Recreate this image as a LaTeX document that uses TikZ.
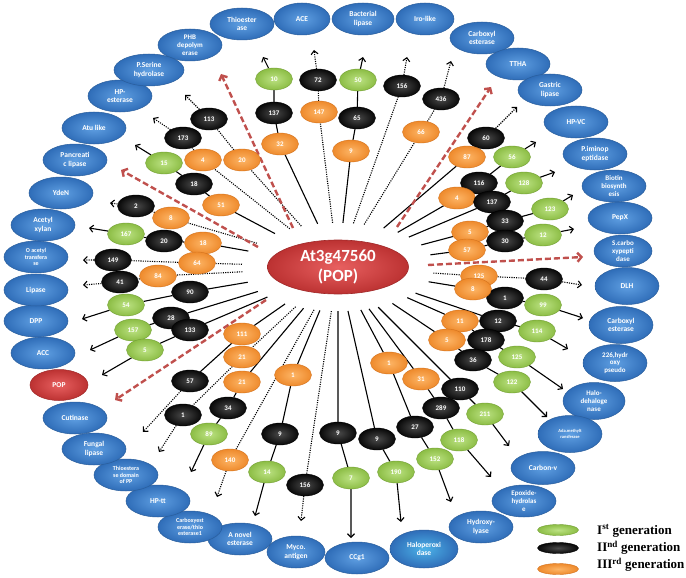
\documentclass[tikz,border=0pt]{standalone}
\usepackage{fontspec}
\setmainfont{Carlito}
\newfontfamily\legfont{Liberation Serif}
\usetikzlibrary{shapes.geometric,arrows.meta,backgrounds}
\definecolor{cBi}{HTML}{5F9FE2}
\definecolor{cBo}{HTML}{2F6DB8}
\definecolor{cBd}{HTML}{2A5E9C}
\definecolor{cGi}{HTML}{BCE283}
\definecolor{cGo}{HTML}{8CBD45}
\definecolor{cGd}{HTML}{73A033}
\definecolor{cOi}{HTML}{FDB566}
\definecolor{cOo}{HTML}{EE8A2C}
\definecolor{cOd}{HTML}{D4721C}
\definecolor{cKi}{HTML}{4A4A4A}
\definecolor{cKo}{HTML}{080808}
\definecolor{cRi}{HTML}{E86060}
\definecolor{cRo}{HTML}{BC3232}
\definecolor{cRd}{HTML}{A02828}
\definecolor{cRdash}{HTML}{C0504D}
\begin{document}
\begin{tikzpicture}[x=1pt,y=-1pt,
  gen/.style={ellipse, minimum width=37pt, minimum height=22pt, inner sep=0pt,
    text=white, font=\fontsize{7}{8}\selectfont\bfseries, line width=0.4pt},
  gI/.style={gen, inner color=cGi, outer color=cGo, draw=cGd},
  gII/.style={gen, inner color=cKi, outer color=cKo, draw=black},
  gIII/.style={gen, inner color=cOi, outer color=cOo, draw=cOd},
  prot/.style={ellipse, minimum width=64pt, minimum height=32pt, inner sep=0pt,
    inner color=cBi, outer color=cBo, draw=cBd, line width=0.5pt, text=white,
    align=center, font=\fontsize{7.5}{8.5}\selectfont\bfseries},
  protthree/.style={prot, font=\fontsize{7}{7.8}\selectfont\bfseries},
  protsmall/.style={prot, font=\fontsize{6}{6.8}\selectfont\bfseries},
  protred/.style={prot, minimum width=58pt, minimum height=31pt, inner color=cRi, outer color=cRo, draw=cRd},
  hub/.style={ellipse, minimum width=141pt, minimum height=54pt, inner sep=0pt,
    inner color=cRi, outer color=cRo, draw=cRd, line width=0.6pt, text=white,
    align=center, font=\fontsize{17}{20}\selectfont\bfseries},
  ringst/.style={ellipse, minimum width=192pt, minimum height=88pt, inner sep=0pt, draw=none},
  seg/.style={line width=1.1pt, black},
  conn/.style={seg, -{Straight Barb[length=3.5pt,width=7pt]}},
  dseg/.style={seg, dash pattern=on 1.1pt off 1.2pt},
  dconn/.style={conn, dash pattern=on 1.1pt off 1.2pt},
  reddash/.style={line width=2.4pt, draw=cRdash, dash pattern=on 6pt off 3pt,
    -{Straight Barb[length=4pt,width=9pt]}},
  leg/.style={ellipse, minimum width=41pt, minimum height=11pt, inner sep=0pt, line width=0.4pt},
  legtxt/.style={anchor=west, inner sep=0pt, font=\legfont\bfseries\fontsize{13}{15}\selectfont}
]
\useasboundingbox (0,0) rectangle (686,578);
\begin{scope}[on background layer]
\fill[white] (0,0) rectangle (686,578);
\end{scope}

% ---- hub ----
\node[ringst] (ring) at (338,267) {};
\node[hub] (pop) at (338,267) {At3g47560\\(POP)};

% ---- outer proteins ----
\node[protthree] (pPHB) at (190,45) {PHB\\depolym\\erase};
\node[prot] (pThio) at (242,24) {Thioester\\ase};
\node[prot, minimum width=56pt] (pACE) at (302,19) {ACE};
\node[prot, minimum width=62pt] (pBact) at (363,19) {Bacterial\\lipase};
\node[prot, minimum width=58pt] (pIro) at (425,19) {Iro-like};
\node[prot] (pCarbA) at (482,38) {Carboxyl\\esterase};
\node[prot] (pTTHA) at (518,64) {TTHA};
\node[prot] (pGast) at (550,90) {Gastric\\lipase};
\node[prot] (pHPVC) at (576,122) {HP-VC};
\node[prot] (pPim) at (595,154) {P.iminop\\eptidase};
\node[protthree] (pBio) at (614,186) {Biotin\\biosynth\\esis};
\node[prot] (pPepX) at (620,218) {PepX};
\node[protthree, minimum width=58pt] (pScar) at (623,251) {S.carbo\\xypepti\\dase};
\node[prot, minimum height=37pt] (pDLH) at (627,286) {DLH};
\node[prot, minimum height=37pt] (pCarbB) at (621,325) {Carboxyl\\esterase};
\node[protthree, minimum height=37pt] (pHyps) at (615,363) {226,hydr\\oxy\\pseudo};
\node[protthree, minimum width=62pt, minimum height=37pt] (pHalo) at (594,401) {Halo-\\dehaloge\\nase};
\node[prot, minimum height=37pt, font=\fontsize{4.5}{5.2}\selectfont\bfseries] (pAda) at (570,434) {Ada.methylt\\ransferase};
\node[prot, minimum height=33pt] (pCv) at (543,468) {Carbon-v};
\node[protthree] (pEpo) at (524,501) {Epoxide-\\hydrolas\\e};
\node[prot] (pHyd) at (481,527) {Hydroxy-\\lyase};
\node[prot, minimum width=68pt, minimum height=38pt, inner color=cBi!80!cyan] (pHalop) at (424,549) {Haloperoxi\\dase};
\node[prot] (pCCg) at (357,558) {CCg1};
\node[prot, minimum width=58pt] (pMyco) at (296,552) {Myco.\\antigen};
\node[prot] (pNovel) at (240,539) {A novel\\esterase};
\node[protsmall] (pCbx) at (190,527) {Carboxyest\\erase/thio\\esterase1};
\node[prot] (pHPtt) at (158,501) {HP-tt};
\node[protsmall] (pTdom) at (126,475) {Thioestera\\se domain\\of PP};
\node[prot] (pFung) at (94,449) {Fungal\\lipase};
\node[prot] (pCut) at (75,418) {Cutinase};
\node[protred] (pPOP) at (59,385) {POP};
\node[prot] (pACC) at (43,353) {ACC};
\node[prot] (pDPP) at (36,321) {DPP};
\node[prot] (pLip) at (36,290) {Lipase};
\node[protsmall] (pOac) at (36,257) {O acetyl\\transfera\\se};
\node[prot] (pAcx) at (43,225) {Acetyl\\xylan};
\node[prot] (pYde) at (61,193) {YdeN};
\node[prot] (pPanc) at (75,160) {Pancreati\\c lipase};
\node[prot] (pAtu) at (94,128) {Atu like};
\node[prot] (pHPe) at (120,96) {HP-\\esterase};
\node[prot, minimum width=70pt] (pPSer) at (149,70) {P.Serine\\hydrolase};

% ---- generation nodes: upper left ----
\node[gIII] (o51) at (221,205) {51};
\node[gII] (k18) at (194,184) {18};
\node[gI] (g15) at (164,163) {15};
\node[gIII] (o4a) at (203,160) {4};
\node[gII] (k173) at (183,138) {173};
\node[gIII] (o20a) at (242,160) {20};
\node[gII] (k113) at (209,119) {113};
\node[gIII] (o8a) at (171,218) {8};
\node[gII] (k2) at (136,206) {2};
\node[gI] (g167) at (126,234) {167};
\node[gII] (k20) at (164,241) {20};
\node[gIII] (o18) at (203,243) {18};
\node[gII] (k149) at (113,260) {149};
\node[gIII] (o64) at (197,263) {64};
\node[gII] (k41) at (120,282) {41};
\node[gIII] (o84) at (158,276) {84};
\node[gI] (g54) at (126,305) {54};
\node[gII] (k90) at (190,292) {90};
\node[gI] (g157) at (133,330) {157};
\node[gII] (k28) at (171,318) {28};
\node[gI] (g5) at (145,350) {5};
\node[gII] (k133) at (190,330) {133};
% top
\node[gIII] (o32) at (280,144) {32};
\node[gII] (k137a) at (274,113) {137};
\node[gI] (g10) at (274,79) {10};
\node[gIII] (o147) at (319,112) {147};
\node[gII] (k72) at (318,80) {72};
\node[gIII] (o9a) at (351,151) {9};
\node[gII] (k65) at (357,118) {65};
\node[gI] (g50) at (358,80) {50};
\node[gII] (k156a) at (402,86) {156};
\node[gIII] (o66) at (421,132) {66};
\node[gII] (k436) at (441,99) {436};
% upper right
\node[gII] (k60) at (486,138) {60};
\node[gIII] (o87) at (467,157) {87};
\node[gI] (g56) at (512,157) {56};
\node[gII] (k116) at (479,183) {116};
\node[gIII] (o4b) at (457,198) {4};
\node[gI] (g128) at (524,183) {128};
\node[gII] (k137b) at (492,202) {137};
\node[gI] (g123) at (550,209) {123};
\node[gII] (k33) at (505,221) {33};
\node[gIII] (o5a) at (470,232) {5};
\node[gI] (g12) at (543,235) {12};
\node[gII] (k30) at (505,241) {30};
\node[gIII] (o57) at (467,250) {57};
% right lower
\node[gII] (k44) at (544,279) {44};
\node[gIII] (o125) at (479,276) {125};
\node[gI] (g99) at (543,305) {99};
\node[gII] (k1a) at (505,298) {1};
\node[gIII] (o8b) at (473,289) {8};
\node[gI] (g114) at (537,331) {114};
\node[gII] (k12) at (498,321) {12};
\node[gIII] (o11) at (460,321) {11};
\node[gI] (g125) at (517,357) {125};
\node[gII] (k178) at (486,340) {178};
\node[gIII] (o5b) at (447,340) {5};
\node[gI] (g122) at (512,382) {122};
\node[gII] (k36) at (473,360) {36};
\node[gI] (g211) at (485,414) {211};
\node[gII] (k110) at (460,389) {110};
\node[gIII] (o31) at (421,379) {31};
\node[gI] (g118) at (459,440) {118};
\node[gII] (k289) at (441,408) {289};
\node[gIII] (o1a) at (389,363) {1};
\node[gI] (g152) at (435,459) {152};
\node[gII] (k27) at (415,427) {27};
\node[gII] (k9c) at (377,439) {9};
\node[gI] (g190) at (396,472) {190};
\node[gII] (k9b) at (338,433) {9};
\node[gI] (g7) at (351,478) {7};
\node[gII] (k156b) at (305,485) {156};
\node[gIII] (o1b) at (293,375) {1};
\node[gII] (k9a) at (280,434) {9};
\node[gI] (g14) at (267,472) {14};
% lower left
\node[gIII] (o111) at (242,334) {111};
\node[gII] (k57) at (190,381) {57};
\node[gIII] (o21a) at (242,357) {21};
\node[gII] (k1b) at (183,415) {1};
\node[gIII] (o21b) at (242,382) {21};
\node[gII] (k34) at (228,408) {34};
\node[gI] (g89) at (209,434) {89};
\node[gIII] (o140) at (230,460) {140};

% ---- arrow tips ----
\coordinate (aUL1) at (135,145);
\coordinate (aUL2) at (153,118);
\coordinate (aUL3) at (185,95);
\coordinate (aUL4) at (110,203);
\coordinate (aUL5) at (89,228);
\coordinate (aUL6) at (83,260);
\coordinate (aL1) at (83,285);
\coordinate (aL2) at (82,319);
\coordinate (aL3) at (90,350);
\coordinate (aL4) at (102,375);
\coordinate (aLL1) at (143,432);
\coordinate (aLL2) at (159,452);
\coordinate (aLL3) at (191,472);
\coordinate (aLL4) at (217,497);
\coordinate (aLL5) at (255,516);
\coordinate (aB1) at (301,521);
\coordinate (aB2) at (351,538);
\coordinate (aB3) at (401,522);
\coordinate (aB4) at (451,502);
\coordinate (aB5) at (491,477);
\coordinate (aB6) at (509,446);
\coordinate (aR1) at (547,417);
\coordinate (aR2) at (563,389);
\coordinate (aR3) at (568,349);
\coordinate (aR4) at (583,318);
\coordinate (aR5) at (582,285);
\coordinate (aUR1) at (574,229);
\coordinate (aUR2) at (573,195);
\coordinate (aUR3) at (555,172);
\coordinate (aUR4) at (536,142);
\coordinate (aUR5) at (517,107);
\coordinate (aT5) at (451,61);
\coordinate (aT4) at (407,57);
\coordinate (aT3) at (363,57);
\coordinate (aT2) at (314,50);
\coordinate (aT1) at (263,57);
% red dashed
\coordinate (rs1) at (293,228); \coordinate (rt1) at (221,74);
\coordinate (rs2) at (258,247); \coordinate (rt2) at (121,170);
\coordinate (rs3) at (266,300); \coordinate (rt3) at (115,400);
\coordinate (rs4) at (397,227); \coordinate (rt4) at (491,87);
\coordinate (rs5) at (428,265); \coordinate (rt5) at (583,257);

% ---- legend ----
\node[leg, inner color=cGi, outer color=cGo, draw=cGd] (lg1) at (558,530) {};
\node[leg, inner color=cKi, outer color=cKo, draw=black] (lg2) at (558,548) {};
\node[leg, inner color=cOi, outer color=cOo, draw=cOd] (lg3) at (558,569) {};
\node[legtxt] (lt1) at (597,531) {I\textsuperscript{st} generation};
\node[legtxt] (lt2) at (597,548) {II\textsuperscript{nd} generation};
\node[legtxt] (lt3) at (597,565) {III\textsuperscript{rd} generation};

% ---- connectors ----
\begin{scope}[on background layer]
% upper left
\draw[conn] (ring) -- (o51) -- (k18) -- (g15) -- (aUL1);
\draw[dconn] (ring) -- (o4a) -- (k173) -- (aUL2);
\draw[dconn] (ring) -- (o20a) -- (k113) -- (aUL3);
\draw[dconn] (ring) -- (o8a) -- (k2) -- (aUL4);
\draw[conn] (ring) -- (o18) -- (k20) -- (g167) -- (aUL5);
\draw[dconn] (ring) -- (o64) -- (k149) -- (aUL6);
\draw[dconn] (ring) -- (o84) -- (k41) -- (aL1);
\draw[conn] (ring) -- (k90) -- (g54) -- (aL2);
\draw[conn] (ring) -- (k28) -- (g157) -- (aL3);
\draw[conn] (ring) -- (k133) -- (g5) -- (aL4);
% lower left
\draw[seg] (ring) -- (o111) -- (k57);
\draw[dconn] (k57) -- (aLL1);
\draw[dconn] (ring) -- (o21a) -- (k1b) -- (aLL2);
\draw[conn] (ring) -- (o21b) -- (k34) -- (g89) -- (aLL3);
\draw[dconn] (ring) -- (o140) -- (aLL4);
\draw[conn] (ring) -- (o1b) -- (k9a) -- (g14) -- (aLL5);
% bottom
\draw[dconn] (ring) -- (k156b) -- (aB1);
\draw[conn] (ring) -- (k9b) -- (g7) -- (aB2);
\draw[conn] (ring) -- (k9c) -- (g190) -- (aB3);
\draw[conn] (ring) -- (o1a) -- (k27) -- (g152) -- (aB4);
\draw[conn] (ring) -- (o31) -- (k289) -- (g118) -- (aB5);
\draw[conn] (ring) -- (k110) -- (g211) -- (aB6);
% right lower
\draw[conn] (ring) -- (o5b) -- (k36) -- (g122) -- (aR1);
\draw[conn] (ring) -- (o11) -- (k178) -- (g125) -- (aR2);
\draw[conn] (ring) -- (k12) -- (g114) -- (aR3);
\draw[conn] (ring) -- (o8b) -- (k1a) -- (g99) -- (aR4);
\draw[dconn] (ring) -- (o125) -- (k44) -- (aR5);
% upper right
\draw[conn] (ring) -- (o57) -- (k30) -- (g12) -- (aUR1);
\draw[conn] (ring) -- (o5a) -- (k33) -- (g123) -- (aUR2);
\draw[conn] (ring) -- (k137b) -- (g128) -- (aUR3);
\draw[conn] (ring) -- (o4b) -- (k116) -- (g56) -- (aUR4);
\draw[seg] (ring) -- (o87);
\draw[dconn] (o87) -- (k60) -- (aUR5);
% top
\draw[dconn] (ring) -- (o66) -- (k436) -- (aT5);
\draw[dconn] (ring) -- (k156a) -- (aT4);
\draw[conn] (ring) -- (o9a) -- (k65) -- (g50) -- (aT3);
\draw[dconn] (ring) -- (o147) -- (k72) -- (aT2);
\draw[conn] (ring) -- (o32) -- (k137a) -- (g10) -- (aT1);
% red dashed arrows
\draw[reddash] (rs1) -- (rt1);
\draw[reddash] (rs2) -- (rt2);
\draw[reddash] (rs3) -- (rt3);
\draw[reddash] (rs4) -- (rt4);
\draw[reddash] (rs5) -- (rt5);
\end{scope}
\end{tikzpicture}
\end{document}
